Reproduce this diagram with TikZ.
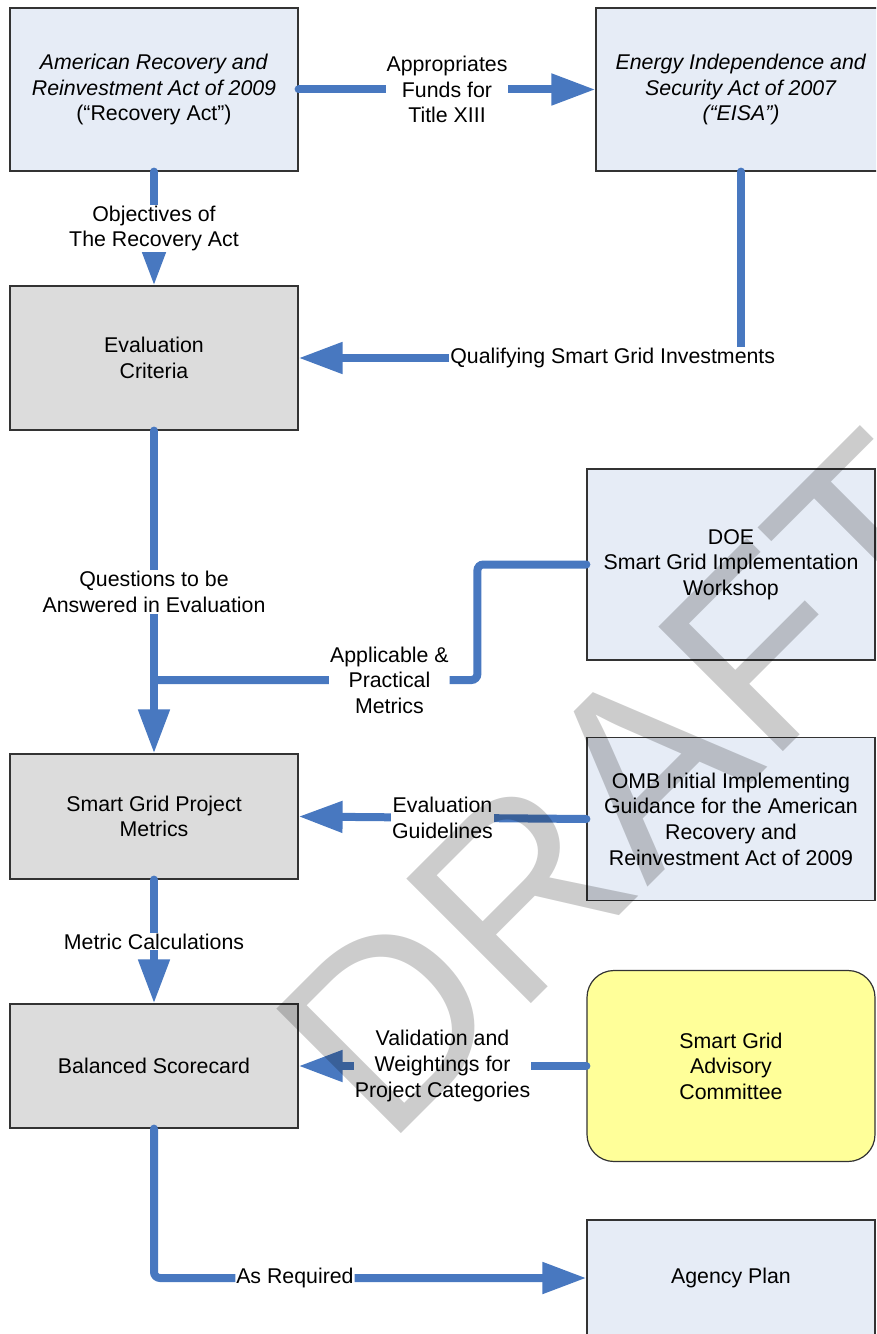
\documentclass[tikz,border=0pt]{standalone}
\usepackage{fontspec}
\setmainfont{Liberation Sans}
\usepackage{xcolor}
\usepackage{tikz}
\usetikzlibrary{arrows.meta}
\definecolor{docblue}{RGB}{230,236,246}
\definecolor{critgray}{RGB}{220,220,220}
\definecolor{panelyellow}{RGB}{255,255,153}
\definecolor{flowblue}{RGB}{72,120,192}
\tikzset{base box/.style={draw=black!80,line width=1.2bp,align=center,inner sep=0pt,font=\fontsize{21.33bp}{25.6bp}\selectfont},doc box/.style={base box,fill=docblue},crit box/.style={base box,fill=critgray},panel box/.style={base box,fill=panelyellow,rounded corners=27bp},flow/.style={draw=flowblue,line width=8bp,line cap=round},flow arrow/.style={flow,-{Triangle[length=44bp,width=30bp]}},flow label/.style={fill=white,inner sep=1bp,align=center,font=\fontsize{21.33bp}{25.6bp}\selectfont},watermark/.style={inner sep=0pt,opacity=0.2,font=\fontsize{256bp}{300bp}\selectfont}}

\begin{document}
\begin{tikzpicture}[x=1bp,y=-1bp]
			\def\boxw{288bp}
			\useasboundingbox (0,0) rectangle (876,1334);
			\clip (0,0) rectangle (876,1334);

			\node[doc box,minimum width=\boxw,minimum height=163bp] (recov) at (154,89.5) {\textit{American Recovery and}\\\textit{Reinvestment Act of 2009}\\(“Recovery Act”)};
			\node[doc box,minimum width=290bp,minimum height=163bp] (eisa) at (741,89.5) {\textit{Energy Independence and}\\\textit{Security Act of 2007}\\\textit{(“EISA”)}};
			\node[crit box,minimum width=\boxw,minimum height=144bp] (evalc) at (154,358) {Evaluation\\Criteria};
			\node[doc box,minimum width=\boxw,minimum height=191bp] (doe) at (731,564.5) {DOE\\Smart Grid Implementation\\Workshop};
			\node[crit box,minimum width=\boxw,minimum height=125bp] (metrics) at (154,816.5) {Smart Grid Project\\Metrics};
			\node[doc box,minimum width=\boxw,minimum height=163bp] (omb) at (731,819) {OMB Initial Implementing\\Guidance for the American\\Recovery and\\Reinvestment Act of 2009};
			\node[crit box,minimum width=\boxw,minimum height=124bp] (score) at (154,1066) {Balanced Scorecard};
			\node[panel box,minimum width=\boxw,minimum height=191bp] (sgac) at (731,1066) {Smart Grid\\Advisory\\Committee};
			\node[doc box,minimum width=\boxw,minimum height=116bp] (agency) at (731,1278) {Agency Plan};
			\coordinate (join) at (154,680);

			\draw[flow arrow] (recov.east) -- node[flow label] {Appropriates\\Funds for\\Title XIII} (eisa.west);
			\draw[flow arrow] (recov.south) -- node[flow label] {Objectives of\\The Recovery Act} (evalc.north);
			\draw[flow arrow] (eisa.south) |- node[flow label,pos=0.645] {Qualifying Smart Grid Investments} (evalc.east);
			\draw[flow arrow] (evalc.south) -- node[flow label] {Questions to be\\Answered in Evaluation} (metrics.north);
			\draw[flow,rounded corners=6bp] (doe.west) -- ++(-109,0) |- node[flow label,pos=0.636] {Applicable \&\\Practical\\Metrics} (join);
			\draw[flow arrow] (omb.west) -- node[flow label] {Evaluation\\Guidelines} (metrics.east);
			\draw[flow arrow] (metrics.south) -- node[flow label] {Metric Calculations} (score.north);
			\draw[flow arrow] (sgac.west) -- node[flow label] {Validation and\\Weightings for\\Project Categories} (score.east);
			\draw[flow arrow,rounded corners=6bp] (score.south) |- node[flow label,pos=0.663] {As Required} (agency.west);

			\node[watermark,anchor=base west,rotate=45] (draft) at (386,1149) {DRAFT};
		\end{tikzpicture}
\end{document}
